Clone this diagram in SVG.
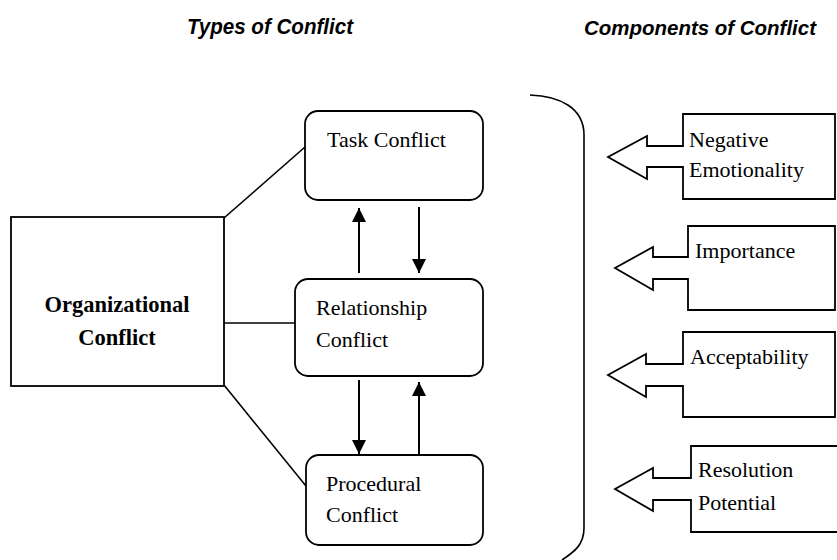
<svg xmlns="http://www.w3.org/2000/svg" width="837" height="560" viewBox="0 0 837 560">
<defs>
<marker id="ah" markerUnits="userSpaceOnUse" markerWidth="14" markerHeight="14" refX="14" refY="7" orient="auto">
<path d="M0,0 L14,7 L0,14 Z" fill="#000"/>
</marker>
</defs>
<style>
.box{fill:#fff;stroke:#000;stroke-width:1.8}
.ln{fill:none;stroke:#000;stroke-width:1.6}
.ar{fill:none;stroke:#000;stroke-width:2}
.t{font-family:"Liberation Serif","Times New Roman",serif;font-size:22px;fill:#000}
.b{font-weight:bold;text-anchor:middle;font-size:22.5px}
.h{font-family:"Liberation Sans",Arial,sans-serif;font-size:22px;font-weight:bold;font-style:italic;fill:#000}
</style>
<rect width="837" height="560" fill="#fff"/>
<g id="headers">
<text class="h" x="187" y="34" textLength="166" lengthAdjust="spacingAndGlyphs">Types of Conflict</text>
<text class="h" x="584" y="35" style="font-size:21px" textLength="232" lengthAdjust="spacingAndGlyphs">Components of Conflict</text>
</g>
<g id="connectors">
<line class="ln" x1="224" y1="218" x2="305" y2="147"/>
<line class="ln" x1="224" y1="323" x2="299" y2="323"/>
<line class="ln" x1="224" y1="385" x2="306" y2="486"/>
<line class="ar" x1="359" y1="273" x2="359" y2="208" marker-end="url(#ah)"/>
<line class="ar" x1="419" y1="207" x2="419" y2="273" marker-end="url(#ah)"/>
<line class="ar" x1="359" y1="380" x2="359" y2="454" marker-end="url(#ah)"/>
<line class="ar" x1="419" y1="455" x2="419" y2="382" marker-end="url(#ah)"/>
<path class="ln" d="M530,95 C560,96 584,108 584,135 L584,528 C584,545 574,552 562,560"/>
</g>
<g id="org">
<rect class="box" x="11" y="217" width="213" height="169"/>
<text class="t b" x="117" y="312">Organizational</text>
<text class="t b" x="117" y="345">Conflict</text>
</g>
<g id="task">
<rect class="box" x="305" y="111" width="178" height="89" rx="13"/>
<text class="t" x="327" y="147">Task Conflict</text>
</g>
<g id="relationship">
<rect class="box" x="295" y="279" width="188" height="97" rx="13"/>
<text class="t" x="316" y="315">Relationship</text>
<text class="t" x="316" y="347">Conflict</text>
</g>
<g id="procedural">
<rect class="box" x="306" y="455" width="177" height="90" rx="13"/>
<text class="t" x="326" y="491">Procedural</text>
<text class="t" x="326" y="522">Conflict</text>
</g>
<g id="negative-emotionality">
<path class="box" d="M683,146 L683,114 L835,114 L835,199 L683,199 L683,167 L647,167 L647,179 L608,157 L647,136 L647,146 Z"/>
<text class="t" x="689" y="147">Negative</text>
<text class="t" x="689" y="177">Emotionality</text>
</g>
<g id="importance">
<path class="box" d="M688,257 L688,226 L835,226 L835,310 L688,310 L688,279 L653,279 L653,290 L615,268 L653,247 L653,257 Z"/>
<text class="t" x="695" y="258">Importance</text>
</g>
<g id="acceptability">
<path class="box" d="M683,364 L683,332 L835,332 L835,417 L683,417 L683,386 L646,386 L646,397 L608,375 L646,354 L646,364 Z"/>
<text class="t" x="690" y="364">Acceptability</text>
</g>
<g id="resolution-potential">
<path class="box" d="M691,478 L691,446 L845,446 L845,532 L691,532 L691,500 L653,500 L653,511 L615,489 L653,468 L653,478 Z"/>
<text class="t" x="698" y="477">Resolution</text>
<text class="t" x="698" y="510">Potential</text>
</g>
</svg>
